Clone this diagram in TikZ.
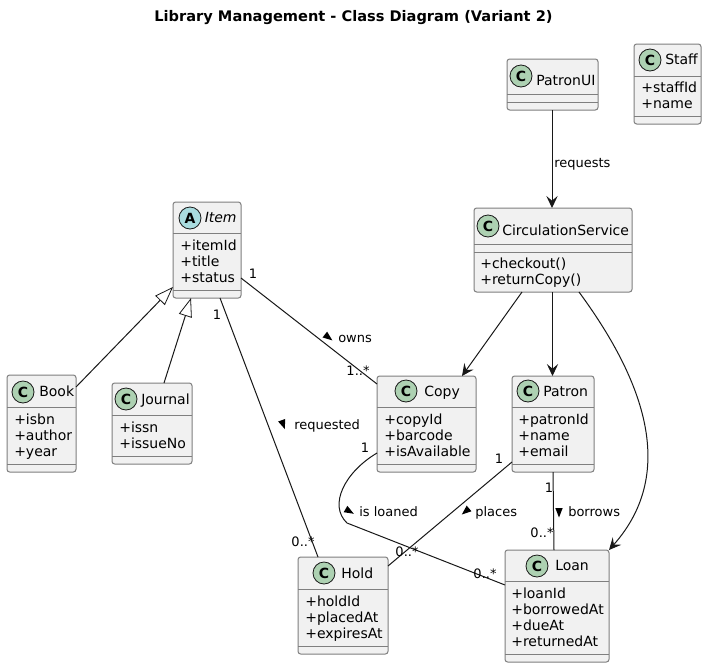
\documentclass[tikz,border=0pt]{standalone}
\usepackage{fontspec}
\setmainfont{DejaVu Sans}
\usetikzlibrary{arrows.meta}
\definecolor{boxfill}{HTML}{F1F1F1}
\definecolor{boxline}{HTML}{7F7F7F}
\definecolor{ink}{HTML}{181818}
\definecolor{spotc}{HTML}{ADD1B2}
\definecolor{spota}{HTML}{A9DCDF}
\tikzset{
  classbox/.style={draw=boxline,fill=boxfill,line width=0.75pt,rounded corners=2pt,inner sep=0pt,outer sep=0pt,rectangle},
  compart/.style={draw=boxline,line width=0.75pt},
  spot/.style={circle,draw=ink,line width=0.6pt,minimum size=16.5pt,inner sep=0pt,font=\fontsize{10.5pt}{12pt}\selectfont\bfseries},
  member/.style={anchor=west,inner sep=0pt,text height=8pt,text depth=2pt,font=\fontsize{10.5pt}{12pt}\selectfont,text=black},
  elabel/.style={anchor=west,inner sep=0pt,text height=8pt,text depth=2pt,font=\fontsize{9.75pt}{12pt}\selectfont,text=black},
  mult/.style={anchor=center,inner sep=0pt,text height=8pt,text depth=2pt,font=\fontsize{9.75pt}{12pt}\selectfont,text=black},
  assoc/.style={draw=ink,line width=0.75pt},
  dep/.style={assoc,-{Stealth[length=9pt,width=8.5pt,inset=3.5pt]}},
  gen/.style={assoc,-{Triangle[open,fill=white,length=14pt,width=10pt,line width=0.6pt]}},
  tipmark/.style={fill=black}
}
\newcommand{\classnode}[5]{\node[classbox,anchor=north west,minimum width={(#4-#2)*0.75pt},minimum height={(#5-#3)*0.75pt}] (#1) at (#2,#3) {};}
\newcommand{\compline}[2]{\draw[compart] (#1.west |- 0,#2) -- (#1.east |- 0,#2);}
\newcommand{\dirmark}[3]{\fill[tipmark,shift={(#1,#2)},rotate=#3] (5.5,0) -- (-4,3.7) -- (-4,-3.7) -- cycle;}
\begin{document}
\begin{tikzpicture}[x=0.75pt,y=-0.75pt]
\useasboundingbox (0,0) rectangle (707,668);
\fill[white] (0,0) rectangle (707,668);
\node[anchor=center,inner sep=0pt,font=\fontsize{10.94pt}{12pt}\selectfont\bfseries] (title) at (353.5,18) {Library Management - Class Diagram (Variant 2)};

\classnode{item}{173}{202}{241}{298}
\classnode{book}{7}{375}{76}{472}
\classnode{journal}{112}{383}{192}{464}
\classnode{copy}{377}{376}{476}{472}
\classnode{patron}{512}{376}{594}{472}
\classnode{hold}{298}{557}{388}{654}
\classnode{loan}{505}{550}{609}{662}
\classnode{patronui}{507}{59}{598}{110}
\classnode{staff}{634}{44}{701}{124}
\classnode{circ}{474}{208}{632}{292}

\compline{item}{233}\compline{item}{290}
\compline{book}{407}\compline{book}{464}
\compline{journal}{415}\compline{journal}{456}
\compline{copy}{407}\compline{copy}{464}
\compline{patron}{407}\compline{patron}{464}
\compline{hold}{589}\compline{hold}{646}
\compline{loan}{581}\compline{loan}{654}
\compline{patronui}{94}\compline{patronui}{102}
\compline{staff}{76}\compline{staff}{116}
\compline{circ}{244}\compline{circ}{252}

% spots
\node[spot,fill=spota] (sitem) at (190,218) {A};
\node[spot,fill=spotc] (sbook) at (23,392) {C};
\node[spot,fill=spotc] (sjournal) at (126,399) {C};
\node[spot,fill=spotc] (scopy) at (406,391) {C};
\node[spot,fill=spotc] (spatron) at (528,391) {C};
\node[spot,fill=spotc] (shold) at (324,573) {C};
\node[spot,fill=spotc] (sloan) at (537,566) {C};
\node[spot,fill=spotc] (spatronui) at (521,76) {C};
\node[spot,fill=spotc] (sstaff) at (650,60) {C};
\node[spot,fill=spotc] (scirc) at (488,226) {C};

% class names
\node[member,font=\fontsize{10.5pt}{12pt}\selectfont\itshape] (nitem) at (204.5,218) {Item};
\node[member] (nbook) at (39,392) {Book};
\node[member] (njournal) at (141,400) {Journal};
\node[member] (ncopy) at (424,392) {Copy};
\node[member] (npatron) at (543,392) {Patron};
\node[member] (nhold) at (341,574) {Hold};
\node[member] (nloan) at (555,566) {Loan};
\node[member] (npatronui) at (536,81) {PatronUI};
\node[member] (nstaff) at (665,60) {Staff};
\node[member] (ncirc) at (502,231) {CirculationService};

% members
\node[member] (m1) at (180,246) {+itemId};
\node[member] (m2) at (180,262) {+title};
\node[member] (m3) at (180,278) {+status};
\node[member] (m4) at (14,420) {+isbn};
\node[member] (m5) at (14,436) {+author};
\node[member] (m6) at (14,452) {+year};
\node[member] (m7) at (119,428) {+issn};
\node[member] (m8) at (119,444) {+issueNo};
\node[member] (m9) at (384,420) {+copyId};
\node[member] (m10) at (384,436) {+barcode};
\node[member] (m11) at (384,452) {+isAvailable};
\node[member] (m12) at (518,420) {+patronId};
\node[member] (m13) at (518,436) {+name};
\node[member] (m14) at (518,452) {+email};
\node[member] (m15) at (305,602) {+holdId};
\node[member] (m16) at (305,618) {+placedAt};
\node[member] (m17) at (305,634) {+expiresAt};
\node[member] (m18) at (511,594) {+loanId};
\node[member] (m19) at (511,610) {+borrowedAt};
\node[member] (m20) at (511,626) {+dueAt};
\node[member] (m21) at (511,642) {+returnedAt};
\node[member] (m22) at (480,264) {+checkout()};
\node[member] (m23) at (480,280) {+returnCopy()};
\node[member] (m24) at (641,88) {+staffId};
\node[member] (m25) at (641,104) {+name};

% connectors
\draw[dep] (patronui.south -| 552,0) -- (circ.north -| 552,0);
\draw[dep] (circ.south -| 522,0) -- (copy.north -| 462,0);
\draw[dep] (circ.south -| 552.5,0) -- (patron.north -| 552.5,0);
\draw[dep] (circ.south -| 579,0) .. controls (640,375) and (680,470) .. (loan.north east);
\draw[gen] (book.east |- 0,387) -- (item.west |- 0,287);
\draw[gen] (journal.north -| 164,0) -- (item.south -| 191,0);
\draw[assoc] (item.east |- 0,278) -- (copy.west |- 0,384);
\draw[assoc] (item.south -| 220,0) -- (hold.north -| 318,0);
\draw[assoc] (copy.west |- 0,453) .. controls (345,472) and (328,505) .. (347,523) -- (loan.west |- 0,585);
\draw[assoc] (patron.west |- 0,462) -- (hold.east |- 0,566);
\draw[assoc] (patron.south -| 553,0) -- (loan.north -| 554,0);

% edge labels
\node[elabel] (lreq) at (554,163) {requests};
\node[elabel] (lown) at (338,338) {owns};
\node[elabel] (lrequested) at (294,425) {requested};
\node[elabel] (lloan) at (359,512) {is loaned};
\node[elabel] (lplace) at (475,512) {places};
\node[elabel] (lborrow) at (568,512) {borrows};
\dirmark{328}{337}{-38}
\dirmark{283}{424}{-70}
\dirmark{349}{511}{-30}
\dirmark{466}{511}{220}
\dirmark{559}{512}{-90}

% multiplicities
\node[mult] (c1) at (253,274) {1};
\node[mult] (c2) at (358,371) {1..*};
\node[mult] (c3) at (217,315) {1};
\node[mult] (c4) at (303,542) {0..*};
\node[mult] (c5) at (365,448) {1};
\node[mult] (c6) at (485,574) {0..*};
\node[mult] (c7) at (499,459) {1};
\node[mult] (c8) at (407,552) {0..*};
\node[mult] (c9) at (549,488) {1};
\node[mult] (c10) at (542,533) {0..*};
\end{tikzpicture}
\end{document}
